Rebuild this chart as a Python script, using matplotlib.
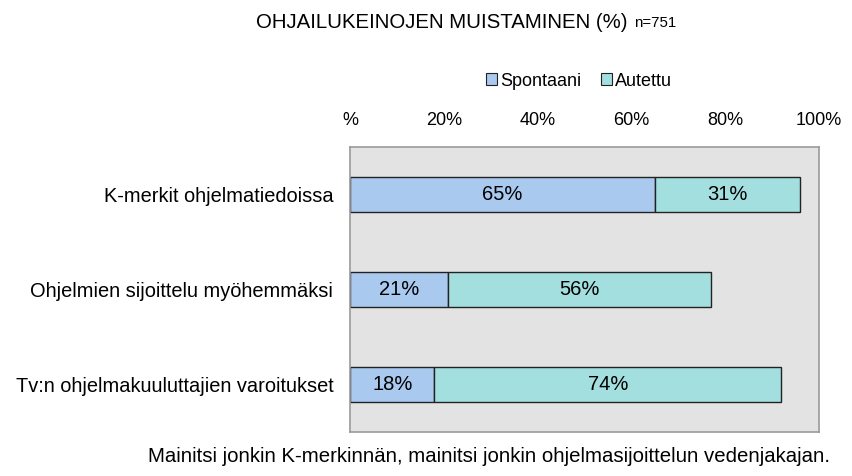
import matplotlib
matplotlib.use("Agg")
import matplotlib.pyplot as plt
from matplotlib.patches import Patch

plt.rcParams['font.family'] = ['Liberation Sans', 'DejaVu Sans']

categories = ["K-merkit ohjelmatiedoissa",
              "Ohjelmien sijoittelu myöhemmäksi",
              "Tv:n ohjelmakuuluttajien varoitukset"]
spontaani = [65, 21, 18]
autettu = [31, 56, 74]
series_names = ["Spontaani", "Autettu"]
tick_values = [0, 20, 40, 60, 80, 100]
tick_labels = ["%", "20%", "40%", "60%", "80%", "100%"]

c_sp = "#A9C9EF"
c_au = "#A4DFE0"

fig = plt.figure(figsize=(8.52, 4.76), dpi=100)
ax = fig.add_axes([350/852, 1-432/476, (819-350)/852, (432-147)/476])
ax.set_facecolor("#E3E3E3")

y = list(range(len(categories)))
h = 0.37
ax.barh(y, spontaani, height=h, color=c_sp, edgecolor="#222222", linewidth=1.0)
ax.barh(y, autettu, left=spontaani, height=h, color=c_au, edgecolor="#222222", linewidth=1.0)

for i in y:
    ax.text(spontaani[i]/2, i, f"{spontaani[i]}%", ha="center", va="center", fontsize=14.5)
    ax.text(spontaani[i] + autettu[i]/2, i, f"{autettu[i]}%", ha="center", va="center", fontsize=14.5)

ax.set_xlim(0, 99.6)
ax.set_ylim(len(categories) - 0.5, -0.5)
ax.set_yticks(y)
ax.set_yticklabels(categories, fontsize=14.4)
ax.tick_params(axis="y", length=0, pad=12)
ax.xaxis.tick_top()
ax.set_xticks(tick_values)
ax.set_xticklabels(tick_labels, fontsize=13)
ax.tick_params(axis="x", length=0, pad=13)
for s in ax.spines.values():
    s.set_color("#9A9A9A")
    s.set_linewidth(1.2)

fig.text(256/852, 1-22/476, "OHJAILUKEINOJEN MUISTAMINEN (%)", fontsize=14.7, va="center", ha="left")
fig.text(634/852, 1-23/476, "n=751", fontsize=10.8, va="center", ha="left")

handles = [Patch(facecolor=c_sp, edgecolor="#222222", linewidth=0.8),
           Patch(facecolor=c_au, edgecolor="#222222", linewidth=0.8)]
fig.legend(handles, series_names, loc="center", bbox_to_anchor=(579/852, 1-81/476),
           ncol=2, frameon=False, fontsize=13, handlelength=0.6, handleheight=0.6,
           handletextpad=0.15, columnspacing=1.1, borderpad=0)

fig.text(489/852, 1-457/476,
         "Mainitsi jonkin K-merkinnän, mainitsi jonkin ohjelmasijoittelun vedenjakajan.",
         fontsize=14.7, ha="center", va="center")

fig.savefig("out.png", dpi=100, facecolor="white")
